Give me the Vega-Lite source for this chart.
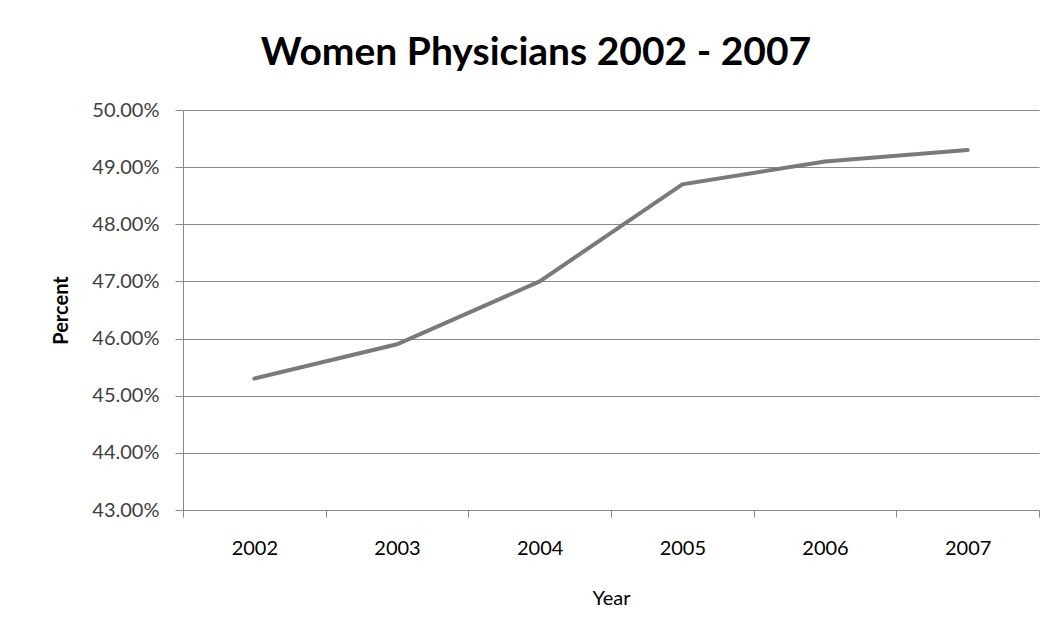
{
  "$schema": "https://vega.github.io/schema/vega-lite/v6.json",
  "width": 856,
  "height": 400,
  "autosize": {"type": "none"},
  "padding": {"left": 183, "top": 110, "right": 15, "bottom": 125},
  "background": "white",
  "title": {
    "text": "Women Physicians 2002 - 2007",
    "font": "Lato",
    "fontSize": 39,
    "fontWeight": "bold",
    "color": "#000000",
    "anchor": "middle",
    "dx": -75,
    "offset": 27
  },
  "config": {
    "view": {"stroke": null},
    "font": "Lato"
  },
  "data": {
    "values": [
      {"Year": "2002", "Percent": 0.453},
      {"Year": "2003", "Percent": 0.459},
      {"Year": "2004", "Percent": 0.470},
      {"Year": "2005", "Percent": 0.487},
      {"Year": "2006", "Percent": 0.491},
      {"Year": "2007", "Percent": 0.493}
    ]
  },
  "mark": {"type": "line", "color": "#7a7a7a", "strokeWidth": 4, "strokeCap": "round"},
  "encoding": {
    "x": {
      "field": "Year",
      "type": "ordinal",
      "bandPosition": 0.5,
      "scale": {"type": "band", "paddingInner": 0, "paddingOuter": 0},
      "axis": {
        "title": "Year",
        "titleFont": "Lato",
        "titleFontSize": 20,
        "titleFontWeight": "normal",
        "titleColor": "#000000",
        "titlePadding": 30,
        "labelAngle": 0,
        "labelFont": "Lato",
        "labelFontSize": 20,
        "labelColor": "#000000",
        "labelPadding": 21,
        "tickBand": "extent",
        "tickSize": 7,
        "tickColor": "#888888",
        "domainColor": "#888888",
        "grid": false
      }
    },
    "y": {
      "field": "Percent",
      "type": "quantitative",
      "scale": {"domain": [0.43, 0.50], "nice": false, "zero": false},
      "axis": {
        "title": "Percent",
        "titleFont": "Lato",
        "titleFontSize": 20,
        "titleFontWeight": "bold",
        "titleColor": "#000000",
        "titlePadding": 20,
        "format": ".2%",
        "values": [0.43, 0.44, 0.45, 0.46, 0.47, 0.48, 0.49, 0.50],
        "labelFont": "Lato",
        "labelFontSize": 20,
        "labelFontWeight": "normal",
        "labelColor": "#404040",
        "labelPadding": 16,
        "tickSize": 8,
        "tickColor": "#888888",
        "domainColor": "#888888",
        "gridColor": "#888888",
        "gridOpacity": 1,
        "gridWidth": 1.2
      }
    }
  }
}
